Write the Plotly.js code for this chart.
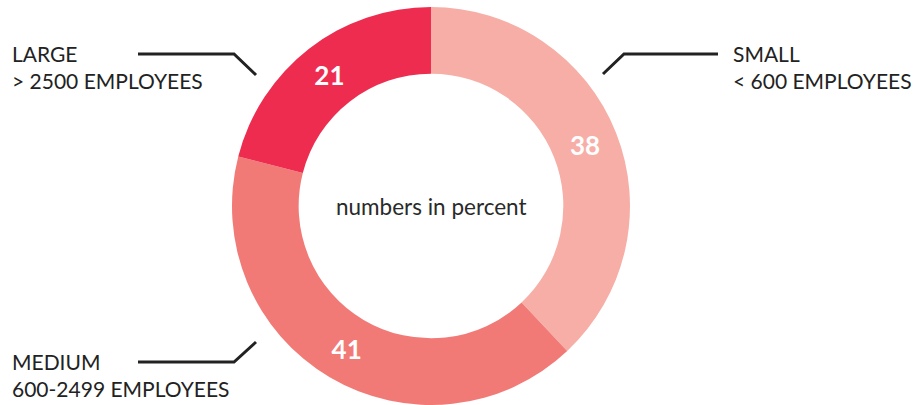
<!DOCTYPE html>
<html>
<head>
<meta charset="utf-8">
<script src="https://cdn.plot.ly/plotly-3.0.1.min.js"></script>
<style>html,body{margin:0;padding:0;background:#fff;}#chart{width:917px;height:405px;}</style>
</head>
<body>
<div id="chart"></div>
<script>
const categories = ["SMALL", "MEDIUM", "LARGE"];
const subLabels = ["&lt; 600 EMPLOYEES", "600-2499 EMPLOYEES", "&gt; 2500 EMPLOYEES"];
const values = [38, 41, 21];
const colors = ["#F7AEA6", "#F27A76", "#EE2C4F"];
const centerText = "numbers in percent";

const trace = {
  type: "pie",
  values: values,
  labels: categories,
  marker: {colors: colors, line: {width: 0}},
  hole: 0.665,
  sort: false,
  direction: "clockwise",
  rotation: 0,
  textinfo: "value",
  textposition: "inside",
  insidetextorientation: "horizontal",
  textfont: {family: "Lato, sans-serif", size: 26, color: "#ffffff", weight: 700},
  hoverinfo: "none",
  showlegend: false,
  domain: {x: [0, 0.94], y: [0, 0.9827]}
};

const lineStyle = {color: "#222222", width: 3};
function px(x){return x/917;}
function py(y){return 1 - y/405;}
const leaders = [
  [[138,54],[234,54],[256,75]],
  [[603,74],[624,54],[718,54]],
  [[138,362],[234,362],[256,342]]
];
const shapeList = leaders.map(pts => ({
  type: "path", xref: "paper", yref: "paper",
  path: pts.map((p,i) => (i===0?"M":"L") + px(p[0]) + "," + py(p[1])).join(" "),
  line: lineStyle
}));

const labelFont = {family: "Lato, sans-serif", size: 21, color: "#222222"};
const annotations = [
  {x: px(10), y: py(67), xref: "paper", yref: "paper", xanchor: "left", yanchor: "middle", align: "left",
   text: categories[2] + "<br>" + subLabels[2], showarrow: false, font: labelFont},
  {x: px(731), y: py(67), xref: "paper", yref: "paper", xanchor: "left", yanchor: "middle", align: "left",
   text: categories[0] + "<br>" + subLabels[0], showarrow: false, font: labelFont},
  {x: px(10), y: py(375), xref: "paper", yref: "paper", xanchor: "left", yanchor: "middle", align: "left",
   text: categories[1] + "<br>" + subLabels[1], showarrow: false, font: labelFont},
  {x: px(431), y: py(207), xref: "paper", yref: "paper", xanchor: "center", yanchor: "middle",
   text: centerText, showarrow: false, font: {family: "Lato, sans-serif", size: 22.5, color: "#2a2a2a"}}
];

Plotly.newPlot("chart", [trace], {
  width: 917, height: 405,
  margin: {l: 0, r: 0, t: 0, b: 0},
  paper_bgcolor: "#ffffff",
  shapes: shapeList,
  annotations: annotations
}, {displayModeBar: false, staticPlot: true});
</script>
</body>
</html>
